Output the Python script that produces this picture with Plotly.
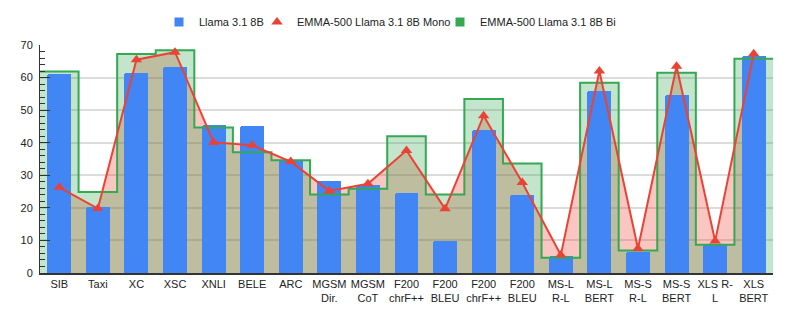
import plotly.graph_objects as go

categorias = ["SIB", "Taxi", "XC", "XSC", "XNLI", "BELE", "ARC",
              "MGSM<br>Dir.", "MGSM<br>CoT", "F200<br>chrF++", "F200<br>BLEU",
              "F200<br>chrF++", "F200<br>BLEU", "MS-L<br>R-L", "MS-L<br>BERT",
              "MS-S<br>R-L", "MS-S<br>BERT", "XLS R-<br>L", "XLS<br>BERT"]

llama = [61.2, 20.2, 61.4, 63.4, 45.3, 45.0, 34.8, 28.1, 27.1, 24.6, 9.9,
         44.0, 24.1, 5.1, 55.8, 6.3, 54.7, 8.5, 66.5]
mono = [26.3, 19.8, 65.5, 67.8, 40.1, 39.2, 34.2, 25.2, 27.4, 37.6, 19.7,
        48.3, 27.8, 5.5, 62.0, 7.5, 63.5, 9.8, 67.3]
bi = [61.9, 24.9, 67.2, 68.4, 44.7, 37.1, 34.6, 24.1, 25.9, 42.0, 24.1,
      53.4, 33.6, 4.7, 58.4, 6.9, 61.5, 8.7, 65.8]

AZUL = "#4285f4"
VERMELHO = "#ea4335"
VERDE = "#34a853"

pos = list(range(len(categorias)))
# degraus ocupam a largura inteira de cada categoria
pos_degrau = [p - 0.5 for p in pos] + [pos[-1] + 0.5]
bi_degrau = bi + [bi[-1]]

faixa_x = [-0.5, len(categorias) - 0.5]
faixa_y = [0, 70]

fig = go.Figure()

# camada 1 (eixos x/y): preenchimentos
fig.add_trace(go.Scatter(
    x=pos, y=mono, mode="lines", fill="tozeroy",
    fillcolor="rgba(234,67,53,0.3)", line=dict(width=0),
    showlegend=False, hoverinfo="skip"
))
fig.add_trace(go.Scatter(
    x=pos_degrau, y=bi_degrau, mode="lines", line_shape="hv", fill="tozeroy",
    fillcolor="rgba(52,168,83,0.3)", line=dict(width=0),
    showlegend=False, hoverinfo="skip"
))

# camada 2: barras
fig.add_trace(go.Bar(
    x=pos, y=llama, name="Llama 3.1 8B", width=0.62,
    marker=dict(color=AZUL, cornerradius=2, line=dict(width=0)),
    showlegend=False, xaxis="x2", yaxis="y2"
))

# camada 3: linhas
fig.add_trace(go.Scatter(
    x=pos_degrau, y=bi_degrau, mode="lines", line_shape="hv",
    line=dict(color=VERDE, width=2), showlegend=False,
    xaxis="x3", yaxis="y3"
))
fig.add_trace(go.Scatter(
    x=pos, y=mono, mode="lines+markers",
    line=dict(color=VERMELHO, width=2),
    marker=dict(symbol="triangle-up", size=10, color=VERMELHO),
    showlegend=False, xaxis="x3", yaxis="y3"
))

# entradas da legenda
fig.add_trace(go.Scatter(x=[None], y=[None], mode="markers", name="Llama 3.1 8B",
                         marker=dict(symbol="square", size=9, color=AZUL),
                         legend="legend"))
fig.add_trace(go.Scatter(x=[None], y=[None], mode="markers", name="EMMA-500 Llama 3.1 8B Mono",
                         marker=dict(symbol="triangle-up", size=10, color=VERMELHO),
                         legend="legend2"))
fig.add_trace(go.Scatter(x=[None], y=[None], mode="markers", name="EMMA-500 Llama 3.1 8B Bi",
                         marker=dict(symbol="square", size=9, color=VERDE),
                         legend="legend3"))

# a página tem margem de 8px, por isso tudo vai deslocado
legenda = dict(orientation="h", xref="container", xanchor="left",
               yref="container", y=1 - 14 / 320, yanchor="middle",
               font=dict(size=11, color="#222222"), itemwidth=30,
               bgcolor="rgba(0,0,0,0)")

fig.update_layout(
    width=793,
    height=320,
    margin=dict(l=32, r=28, t=37, b=55, autoexpand=False),
    plot_bgcolor="white",
    paper_bgcolor="white",
    font=dict(family="Liberation Sans, Arial", size=11, color="#222222"),
    legend=dict(legenda, x=151 / 793),
    legend2=dict(legenda, x=249 / 793),
    legend3=dict(legenda, x=432 / 793),
    bargap=0,
    xaxis2=dict(overlaying="x", range=faixa_x, visible=False),
    yaxis2=dict(overlaying="y", range=faixa_y, visible=False),
    xaxis3=dict(overlaying="x", range=faixa_x, visible=False),
    yaxis3=dict(overlaying="y", range=faixa_y, visible=False),
)

fig.layout.xaxis.update(
    range=faixa_x,
    tickmode="array", tickvals=pos, ticktext=categorias,
    showgrid=False, zeroline=False,
    showline=True, linecolor="#333333", linewidth=1.5,
    ticks="", tickfont=dict(size=11), automargin=False
)

fig.layout.yaxis.update(
    range=faixa_y, dtick=10,
    showgrid=True, gridcolor="#dcdcdc", gridwidth=1.5,
    zeroline=False, showline=True, linecolor="#333333", linewidth=1,
    ticks="inside", ticklen=10, tickcolor="#333333",
    minor=dict(dtick=2, ticks="inside", ticklen=5, tickcolor="#333333", showgrid=False),
    tickfont=dict(size=11), ticklabelstandoff=4, automargin=False
)

fig.write_html("out.html")
